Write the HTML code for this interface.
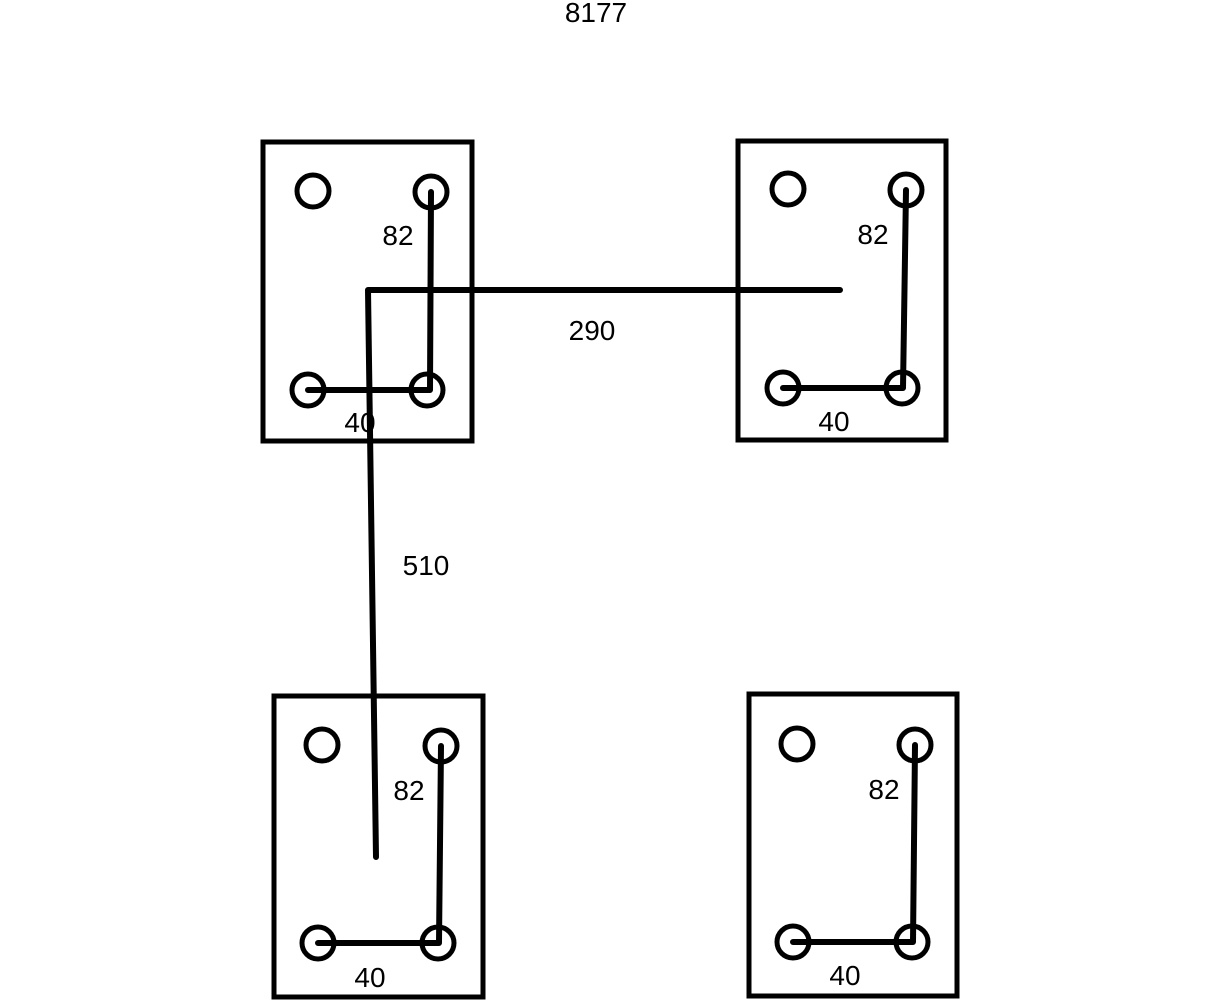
<!DOCTYPE html>
<html><head><style>body{margin:0;background:#fff}</style></head><body>
<svg width="1223" height="1000" viewBox="0 0 1223 1000" xmlns="http://www.w3.org/2000/svg" font-family="Liberation Sans, sans-serif" font-size="28">
<g fill="none" stroke="#000" stroke-width="5">
<rect x="263" y="142" width="209" height="299"/>
<rect x="738" y="141" width="208" height="299"/>
<rect x="274" y="696" width="209" height="301"/>
<rect x="749" y="694" width="208" height="302"/>
</g>
<g fill="none" stroke="#000" stroke-width="5">
<circle cx="313" cy="191" r="16"/><circle cx="431" cy="192" r="16"/><circle cx="308" cy="390" r="16"/><circle cx="427" cy="390" r="16"/>
<circle cx="788" cy="189" r="16"/><circle cx="906" cy="190" r="16"/><circle cx="783" cy="388" r="16"/><circle cx="902" cy="388" r="16"/>
<circle cx="322" cy="745" r="16"/><circle cx="441" cy="746" r="16"/><circle cx="318" cy="943" r="16"/><circle cx="438" cy="943" r="16"/>
<circle cx="797" cy="744" r="16"/><circle cx="915" cy="745" r="16"/><circle cx="793" cy="942" r="16"/><circle cx="912" cy="942" r="16"/>
</g>
<g fill="none" stroke="#000" stroke-width="6" stroke-linejoin="round" stroke-linecap="round">
<polyline points="431,192 430,390 308,390"/>
<polyline points="906,190 903,388 783,388"/>
<polyline points="441,746 439,943 318,943"/>
<polyline points="915,745 913,942 793,942"/>
<polyline points="840,290 368,290 376,857"/>
</g>
<g fill="#000">
<text x="596" y="22" text-anchor="middle">8177</text>
<text x="398" y="245" text-anchor="middle">82</text>
<text x="873" y="244" text-anchor="middle">82</text>
<text x="409" y="800" text-anchor="middle">82</text>
<text x="884" y="799" text-anchor="middle">82</text>
<text x="360" y="432" text-anchor="middle">40</text>
<text x="834" y="431" text-anchor="middle">40</text>
<text x="370" y="987" text-anchor="middle">40</text>
<text x="845" y="985" text-anchor="middle">40</text>
<text x="592" y="340" text-anchor="middle">290</text>
<text x="426" y="575" text-anchor="middle">510</text>
</g>
</svg>
</body></html>
